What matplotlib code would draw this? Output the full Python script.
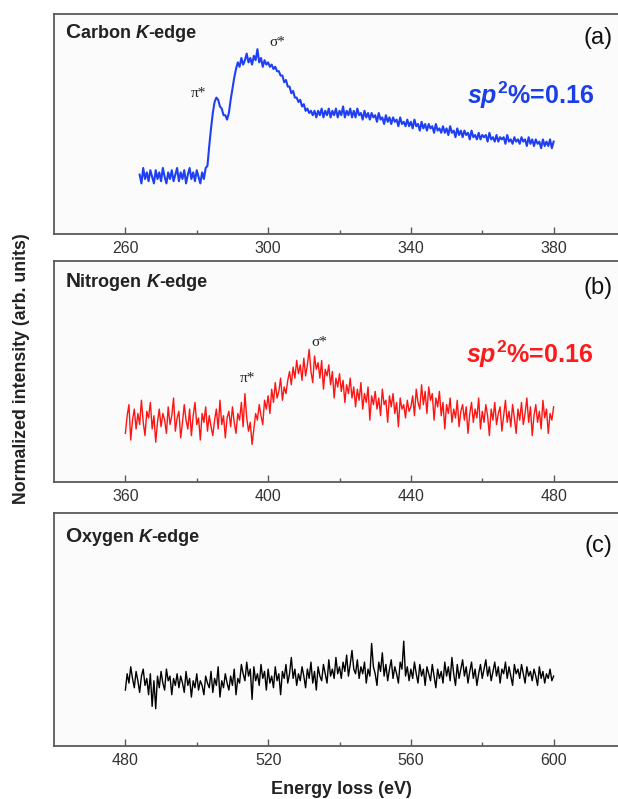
import numpy as np
import matplotlib
matplotlib.use("Agg")
import matplotlib.pyplot as plt

plt.rcParams['font.family'] = ['Liberation Sans', 'DejaVu Sans']
plt.rcParams['mathtext.fontset'] = 'custom'
plt.rcParams['mathtext.it'] = 'Liberation Sans:italic:bold'
plt.rcParams['mathtext.bf'] = 'Liberation Sans:bold'
plt.rcParams['mathtext.rm'] = 'Liberation Sans:bold'

# intensities, 0.5 eV steps (0-100 = panel height)
carbon_start = 264.0
carbon_i = [27, 23, 30, 25, 28, 24, 29, 26, 23, 29,
            25, 28, 24, 30, 26, 23, 28, 25, 29, 24,
            27, 30, 24, 28, 25, 29, 23, 27, 30, 25,
            28, 24, 29, 26, 23, 28, 25, 30, 31, 40,
            48, 55, 60, 62, 61, 58, 57, 54, 54, 52,
            55, 61, 66, 71, 75, 78, 76, 80, 77, 79,
            82, 78, 80, 77, 81, 79, 84, 78, 80, 76,
            79, 77, 78, 76, 77, 75, 76, 74, 74, 72,
            72, 69, 70, 67, 67, 64, 65, 62, 62, 60,
            61, 58, 59, 56, 57, 55, 56, 54, 56, 53,
            56, 54, 57, 53, 56, 54, 57, 53, 56, 54,
            57, 53, 56, 54, 58, 53, 56, 54, 57, 53,
            56, 53, 57, 54, 55, 52, 56, 53, 55, 52,
            55, 53, 54, 51, 55, 52, 53, 50, 54, 51,
            53, 50, 53, 51, 52, 49, 53, 50, 51, 49,
            52, 49, 51, 48, 52, 49, 50, 47, 51, 48,
            50, 47, 50, 48, 49, 46, 50, 47, 48, 46,
            49, 46, 48, 45, 49, 46, 47, 44, 48, 45,
            47, 44, 47, 45, 46, 43, 47, 44, 45, 43,
            46, 43, 45, 44, 45, 42, 46, 43, 44, 42,
            45, 42, 44, 43, 44, 41, 45, 42, 43, 41,
            44, 42, 43, 41, 44, 42, 43, 40, 44, 41,
            43, 40, 43, 41, 42, 39, 43, 40, 42, 40,
            43, 39, 42]

nitrogen_start = 360.0
nitrogen_i = [22, 30, 35, 19, 28, 33, 24, 31, 26, 37,
              27, 21, 32, 29, 36, 24, 30, 18, 27, 33,
              25, 31, 28, 22, 34, 26, 30, 38, 23, 29,
              32, 20, 27, 35, 28, 24, 33, 21, 30, 36,
              26, 29, 19, 31, 27, 34, 23, 30, 25, 21,
              28, 33, 24, 37, 26, 30, 20, 29, 32, 25,
              34, 27, 22, 31, 28, 36, 25, 40, 29, 23,
              27, 17, 24, 31, 28, 35, 30, 26, 37, 33,
              39, 31, 42, 36, 45, 38, 41, 47, 37, 43,
              40, 46, 50, 44, 52, 47, 55, 49, 53, 46,
              56, 48, 53, 60, 50, 45, 57, 51, 54, 47,
              55, 42, 51, 48, 53, 44, 50, 38, 47, 43,
              49, 41, 46, 36, 44, 40, 47, 38, 43, 34,
              42, 37, 45, 33, 40, 36, 43, 28, 39, 35,
              41, 33, 38, 30, 42, 35, 37, 27, 39, 34,
              40, 31, 36, 25, 38, 33, 35, 29, 37, 32,
              34, 39, 30, 42, 36, 33, 44, 35, 41, 31,
              43, 37, 40, 28, 38, 34, 41, 30, 36, 24,
              35, 31, 38, 27, 33, 29, 37, 25, 32, 35,
              28, 34, 22, 31, 36, 27, 33, 29, 38, 24,
              32, 27, 35, 30, 21, 33, 28, 36, 26, 31,
              34, 23, 30, 37, 27, 32, 25, 35, 29, 22,
              33, 28, 36, 26, 31, 38, 27, 34, 21, 30,
              35, 27, 32, 24, 37, 29, 33, 22, 31, 28,
              34]

oxygen_start = 480.0
oxygen_i = [24, 31, 27, 34, 29, 25, 32, 28, 23, 30,
            33, 26, 29, 22, 31, 17, 28, 16, 30, 25,
            32, 27, 24, 33, 28, 30, 22, 29, 26, 31,
            25, 30, 27, 23, 32, 26, 29, 21, 28, 25,
            31, 24, 28, 26, 22, 30, 27, 25, 32, 23,
            29, 26, 34, 21, 28, 25, 31, 27, 24, 30,
            26, 33, 22, 29, 27, 35, 31, 28, 36, 30,
            33, 20, 34, 28, 31, 26, 35, 29, 32, 24,
            33, 27, 30, 25, 34, 28, 31, 22, 32, 29,
            35, 27, 31, 38, 29, 33, 26, 31, 28, 34,
            30, 25, 33, 29, 36, 27, 32, 24, 34, 30,
            28, 35, 31, 27, 37, 30, 33, 29, 38, 31,
            34, 29, 36, 32, 39, 30, 35, 41, 33, 31,
            37, 29, 34, 31, 36, 27, 33, 30, 44, 34,
            31, 26, 36, 32, 40, 30, 35, 28, 33, 37,
            29, 34, 31, 27, 36, 33, 45, 30, 34, 28,
            33, 29, 36, 31, 27, 35, 30, 33, 26, 34,
            31, 28, 35, 30, 25, 33, 29, 32, 27, 36,
            30, 34, 28, 38, 31, 26, 35, 29, 33, 37,
            30, 34, 27, 32, 36, 29, 33, 26, 31, 35,
            29, 33, 37, 30, 34, 28, 32, 36, 30, 34,
            27, 33, 31, 36, 29, 34, 30, 26, 35, 31,
            33, 29, 35, 31, 27, 34, 30, 32, 28, 33,
            30, 26, 34, 29, 32, 27, 31, 29, 33, 28,
            30]

step = 0.5
carbon_e = carbon_start + step * np.arange(len(carbon_i))
nitrogen_e = nitrogen_start + step * np.arange(len(nitrogen_i))
oxygen_e = oxygen_start + step * np.arange(len(oxygen_i))

carbon_ticks = [260, 300, 340, 380]
nitrogen_ticks = [360, 400, 440, 480]
oxygen_ticks = [480, 520, 560, 600]

fig = plt.figure(figsize=(6.18, 7.99), dpi=100)
fig.patch.set_facecolor('white')

W, H = 618.0, 799.0
left = 54 / W
width = (625 - 54) / W


def panel(top, bottom):
    ax = fig.add_axes([left, 1 - bottom / H, width, (bottom - top) / H])
    ax.set_facecolor('#fbfbfb')
    for s in ['top', 'left', 'bottom']:
        ax.spines[s].set_color('#5a5a5a')
        ax.spines[s].set_linewidth(1.3)
    ax.spines['right'].set_visible(False)
    ax.set_yticks([])
    ax.set_ylim(0, 100)
    ax.tick_params(axis='x', which='major', direction='in', length=5, width=1,
                   colors='#5a5a5a', labelcolor='#333333', labelsize=11.5, pad=5)
    ax.tick_params(axis='x', which='minor', direction='in', length=3, width=1,
                   colors='#5a5a5a')
    return ax


def edge_title(ax, letter, rest, y):
    parts = [(letter, dict(fontsize=15, weight='bold')),
             (rest, dict(fontsize=13, weight='bold')),
             ('K', dict(fontsize=13, weight='bold', style='italic')),
             ('-edge', dict(fontsize=13, weight='bold'))]
    txt, style = parts[0]
    prev = ax.text(0.02, y, txt, transform=ax.transAxes, va='bottom', ha='left',
                   color='#222222', **style)
    for txt, style in parts[1:]:
        prev = ax.annotate(txt, xy=(1, 0), xycoords=prev, va='bottom', ha='left',
                           color='#222222', **style)


star = dict(fontsize=11, family=['Liberation Serif', 'DejaVu Serif'], color='#222222',
            ha='center', va='center')
sp2 = r'$\mathit{sp}^{\mathbf{2}}$%=0.16'

# (a) carbon
ax1 = panel(14, 234)
ax1.plot(carbon_e, carbon_i, color='#1f40f2', lw=1.5)
ax1.set_xlim(240, 400)
ax1.set_xticks(carbon_ticks)
ax1.set_xticks([280, 320, 360], minor=True)
edge_title(ax1, 'C', 'arbon ', 0.873)
ax1.text(396.5, 89, '(a)', fontsize=17, ha='right', va='center', color='#111111')
ax1.text(280.6, 64, 'π*', **star)
ax1.text(302.6, 87, 'σ*', **star)
ax1.text(391.5, 59, sp2, fontsize=18, weight='bold', color='#1a3ee8', ha='right', va='baseline')

# (b) nitrogen
ax2 = panel(261, 482)
ax2.plot(nitrogen_e, nitrogen_i, color='#ff1414', lw=1.0)
ax2.set_xlim(340, 500)
ax2.set_xticks(nitrogen_ticks)
ax2.set_xticks([380, 420, 460], minor=True)
edge_title(ax2, 'N', 'itrogen ', 0.864)
ax2.text(496.5, 88, '(b)', fontsize=17, ha='right', va='center', color='#111111')
ax2.text(394.2, 47, 'π*', **star)
ax2.text(414.4, 63, 'σ*', **star)
ax2.text(491, 54, sp2, fontsize=18, weight='bold', color='#ff1a1a', ha='right', va='baseline')

# (c) oxygen
ax3 = panel(513, 746)
ax3.plot(oxygen_e, oxygen_i, color='black', lw=1.0)
ax3.set_xlim(460, 620)
ax3.set_xticks(oxygen_ticks)
ax3.set_xticks([500, 540, 580], minor=True)
edge_title(ax3, 'O', 'xygen ', 0.858)
ax3.text(616.5, 86, '(c)', fontsize=17, ha='right', va='center', color='#111111')

fig.text(341 / W, 1 - 789 / H, 'Energy loss (eV)', ha='center', va='center',
         fontsize=13, weight='bold', color='#222222')
fig.text(22 / W, 1 - 369 / H, 'Normalized intensity (arb. units)', ha='center', va='center',
         rotation=90, fontsize=12.8, weight='bold', color='#222222')

fig.savefig('out.png', dpi=100)
